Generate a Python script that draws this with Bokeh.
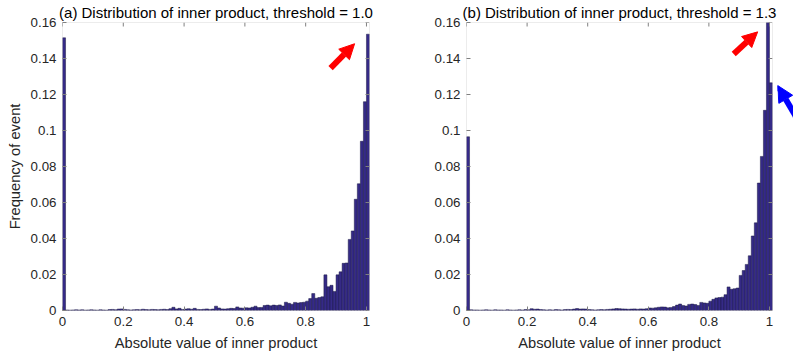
import numpy as np
from bokeh.plotting import figure
from bokeh.models import Range1d, FixedTicker, Arrow, NormalHead, BoxAnnotation
from bokeh.layouts import row
from bokeh.embed import file_html
from bokeh.resources import INLINE

# ---- data ----
bin_width = 0.01
freq_a = [
    0.1515, 0.0003, 0.0002, 0.0003, 0.0004, 0.0003, 0.0004, 0.0002, 0.0003, 0.0004,
    0.0003, 0.0002, 0.0004, 0.0003, 0.0002, 0.0005, 0.0006, 0.0004, 0.0008, 0.0009,
    0.0006, 0.0004, 0.0003, 0.0004, 0.0005, 0.0004, 0.0007, 0.0005, 0.0004, 0.0006,
    0.0005, 0.0004, 0.0006, 0.0007, 0.0005, 0.0010, 0.0018, 0.0009, 0.0012, 0.0006,
    0.0008, 0.0010, 0.0007, 0.0012, 0.0006, 0.0005, 0.0007, 0.0009, 0.0006, 0.0008,
    0.0024, 0.0014, 0.0009, 0.0008, 0.0010, 0.0012, 0.0011, 0.0020, 0.0014, 0.0013,
    0.0015, 0.0014, 0.0018, 0.0024, 0.0016, 0.0017, 0.0028, 0.0030, 0.0026, 0.0030,
    0.0028, 0.0031, 0.0025, 0.0046, 0.0040, 0.0035, 0.0045, 0.0042, 0.0044, 0.0046,
    0.0052, 0.0066, 0.0094, 0.0068, 0.0072, 0.0076, 0.0198, 0.0132, 0.0140, 0.0106,
    0.0198, 0.0215, 0.0262, 0.0264, 0.0395, 0.0442, 0.0618, 0.0704, 0.0940, 0.1160,
    0.1535,
]
freq_b = [
    0.0965, 0.0004, 0.0003, 0.0003, 0.0002, 0.0003, 0.0004, 0.0003, 0.0002, 0.0004,
    0.0003, 0.0003, 0.0002, 0.0004, 0.0003, 0.0002, 0.0003, 0.0004, 0.0003, 0.0005,
    0.0004, 0.0010, 0.0007, 0.0008, 0.0005, 0.0004, 0.0003, 0.0004, 0.0003, 0.0005,
    0.0004, 0.0003, 0.0005, 0.0006, 0.0005, 0.0008, 0.0011, 0.0008, 0.0009, 0.0008,
    0.0005, 0.0004, 0.0003, 0.0004, 0.0005, 0.0004, 0.0006, 0.0007, 0.0009, 0.0011,
    0.0010, 0.0009, 0.0008, 0.0007, 0.0008, 0.0009, 0.0007, 0.0009, 0.0008, 0.0010,
    0.0014, 0.0013, 0.0015, 0.0018, 0.0020, 0.0019, 0.0015, 0.0017, 0.0022, 0.0030,
    0.0036, 0.0028, 0.0025, 0.0034, 0.0036, 0.0033, 0.0028, 0.0045, 0.0042, 0.0040,
    0.0052, 0.0062, 0.0070, 0.0072, 0.0074, 0.0088, 0.0131, 0.0118, 0.0121, 0.0125,
    0.0195, 0.0222, 0.0256, 0.0304, 0.0414, 0.0487, 0.0708, 0.0856, 0.1112, 0.1750,
    0.1265,
]
x_ticks = [0, 0.2, 0.4, 0.6, 0.8, 1]
x_tick_labels = ["0", "0.2", "0.4", "0.6", "0.8", "1"]
y_ticks = [0, 0.02, 0.04, 0.06, 0.08, 0.1, 0.12, 0.14, 0.16]
y_tick_labels = ["0", "0.02", "0.04", "0.06", "0.08", "0.1", "0.12", "0.14", "0.16"]
title_a = "(a) Distribution of inner product, threshold = 1.0"
title_b = "(b) Distribution of inner product, threshold = 1.3"
x_label = "Absolute value of inner product"
y_label = "Frequency of event"

X_MAX = 1.01
Y_MAX = 0.16
FONT = "Liberation Sans"
AX = "#808080"
TXT = "#262626"
BAR = "#352A87"


def style_axis(ax, ticks, labels):
    ax.ticker = FixedTicker(ticks=ticks)
    ax.major_label_overrides = {t: l for t, l in zip(ticks, labels)}
    ax.major_tick_in = 4
    ax.major_tick_out = 0
    ax.minor_tick_in = 0
    ax.minor_tick_out = 0
    ax.axis_line_color = None
    ax.major_tick_line_color = AX
    ax.major_label_text_font = FONT
    ax.major_label_text_font_size = "13.3px"
    ax.major_label_text_color = TXT
    ax.major_label_standoff = 6
    ax.axis_label_text_font = FONT
    ax.axis_label_text_font_size = "14.7px"
    ax.axis_label_text_font_style = "normal"
    ax.axis_label_text_color = TXT


def panel(title, freq, width, bl, br, ylab):
    p = figure(width=width, height=358, output_backend="svg", toolbar_location=None,
               x_range=Range1d(0, X_MAX), y_range=Range1d(0, Y_MAX),
               min_border_left=bl, min_border_right=br,
               min_border_top=21, min_border_bottom=48, title=title)
    centers = [(i + 0.5) * bin_width for i in range(len(freq))]
    p.vbar(x=centers, top=freq, width=bin_width, fill_color=BAR,
           line_color="#1c1a45", line_width=0.5)
    p.xgrid.visible = False
    p.ygrid.visible = False
    p.outline_line_color = None
    p.background_fill_color = "white"
    p.border_fill_color = "white"
    style_axis(p.xaxis[0], x_ticks, x_tick_labels)
    style_axis(p.yaxis[0], y_ticks, y_tick_labels)
    p.xaxis.axis_label = x_label
    p.xaxis.axis_label_standoff = 6
    if ylab:
        p.yaxis.axis_label = ylab
        p.yaxis.axis_label_standoff = 5
    # axes box with mirrored inward ticks on top and right
    p.add_layout(BoxAnnotation(left=0, right=X_MAX, bottom=0, top=Y_MAX,
                               fill_alpha=0, line_color=AX, line_width=1))
    p.ray(x=x_ticks, y=[Y_MAX] * len(x_ticks), length=4, length_units="screen",
          angle=-np.pi / 2, line_color=AX, line_width=1)
    p.ray(x=[X_MAX] * len(y_ticks), y=y_ticks, length=4, length_units="screen",
          angle=np.pi, line_color=AX, line_width=1)
    p.title.text_font = FONT
    p.title.text_font_size = "15px"
    p.title.text_font_style = "normal"
    p.title.text_color = "black"
    p.title.align = "center"
    p.title.standoff = 3
    return p


p1 = panel(title_a, freq_a, 400, 62, 31, y_label)
p2 = panel(title_b, freq_b, 377, 66, 5, None)

# narrow strip right of panel (b), continuing its scales, for the blue arrow
px = X_MAX / 306.0
p3 = figure(width=16, height=358, output_backend="svg", toolbar_location=None,
            x_range=Range1d(X_MAX + 5 * px, X_MAX + 21 * px), y_range=Range1d(0, Y_MAX),
            min_border_left=0, min_border_right=0,
            min_border_top=21, min_border_bottom=48)
p3.axis.visible = False
p3.grid.visible = False
p3.outline_line_color = None
p3.border_fill_color = "white"

p1.add_layout(Arrow(end=NormalHead(size=15, fill_color="red", line_color="red"),
                    x_start=0.882, y_start=0.1346, x_end=0.961, y_end=0.1482,
                    line_color="red", line_width=6))
p2.add_layout(Arrow(end=NormalHead(size=15, fill_color="red", line_color="red"),
                    x_start=0.882, y_start=0.1425, x_end=0.961, y_end=0.1548,
                    line_color="red", line_width=6))
p3.add_layout(Arrow(end=NormalHead(size=16, fill_color="blue", line_color="blue"),
                    x_start=1.136, y_start=0.0938, x_end=1.027, y_end=0.125,
                    line_color="blue", line_width=6))

layout = row(p1, p2, p3)
open("out.html", "w").write(file_html(layout, INLINE))
